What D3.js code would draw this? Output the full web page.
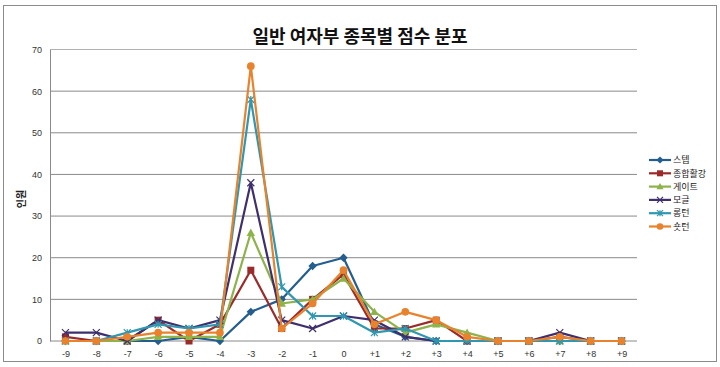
<!DOCTYPE html>
<html><head><meta charset="utf-8">
<script src="https://cdn.jsdelivr.net/npm/d3@7"></script>
<style>body{margin:0;background:#fff}svg{display:block;font-family:"Noto Sans CJK KR","Noto Sans",sans-serif}</style>
</head><body><svg id="c" width="720" height="367"></svg>
<script>
const categories = ["-9","-8","-7","-6","-5","-4","-3","-2","-1","0","+1","+2","+3","+4","+5","+6","+7","+8","+9"];
const seriesNames = ["스텝","종합활강","게이트","모글","롱턴","숏턴"];
const step      = [0,0,0,0,1,0,7,10,18,20,4,1,0,0,0,0,0,0,0];
const combined  = [1,0,0,5,0,4,17,3,10,16,3,3,5,0,0,0,1,0,0];
const gate      = [0,0,0,1,1,1,26,9,10,15,7,2,4,2,0,0,0,0,0];
const mogul     = [2,2,0,5,3,5,38,5,3,6,5,1,0,0,0,0,2,0,0];
const longTurn  = [0,0,2,4,3,4,58,13,6,6,2,3,0,0,0,0,0,0,0];
const shortTurn = [0,0,1,2,2,2,66,3,9,17,4,7,5,1,0,0,1,0,0];
const yTicks = [0,10,20,30,40,50,60,70];
const colors = ["#245e8f","#9b2b2b","#8db34a","#3f2f6e","#2f97b0","#e8822c"];
const markers = ["diamond","square","triangle","x","star","circle"];
const allSeries = [step,combined,gate,mogul,longTurn,shortTurn];

const svg = d3.select("#c");
svg.append("rect").attr("x",3.5).attr("y",5.5).attr("width",713).attr("height",356)
  .attr("fill","#fff").attr("stroke","#8c8c8c");

const L=50,R=637,T=49.5,B=341;
const x = d3.scalePoint().domain(categories).range([L,R]).padding(0.5);
const y = d3.scaleLinear().domain([0,70]).range([B,T]);

svg.append("text").attr("x",360).attr("y",43).attr("text-anchor","middle")
  .attr("font-size",18).attr("font-weight","bold").attr("fill","#111").text("일반 여자부 종목별 점수 분포");

svg.append("g").selectAll("line").data(yTicks.filter(d=>d>0)).join("line")
  .attr("x1",L).attr("x2",R).attr("y1",d=>y(d)).attr("y2",d=>y(d))
  .attr("stroke",d=>d===70?"#b0b0b0":"#8a8a8a").attr("stroke-width",1);

const yAxis = svg.append("g").attr("transform",`translate(${L},0)`)
  .call(d3.axisLeft(y).tickValues(yTicks).tickSize(0).tickPadding(8));
yAxis.select(".domain").attr("stroke","#8a8a8a");
yAxis.selectAll("text").attr("font-size",9).attr("fill","#333").attr("font-family","Liberation Sans, Arial, sans-serif");

const xAxis = svg.append("g").attr("transform",`translate(0,${B})`)
  .call(d3.axisBottom(x).tickSize(0).tickPadding(10));
xAxis.select(".domain").attr("stroke","#8a8a8a").attr("d",`M${L},0H${R}`);
xAxis.selectAll("text").attr("font-size",9).attr("fill","#333").attr("font-family","Liberation Sans, Arial, sans-serif");

svg.append("text").attr("transform","translate(25,199) rotate(-90)").attr("text-anchor","middle")
  .attr("font-size",10).attr("font-weight","bold").attr("fill","#222").text("인원");

function drawMarker(g,type,color,cx,cy,s){
  if(type==="circle") g.append("circle").attr("cx",cx).attr("cy",cy).attr("r",s*0.55).attr("fill",color);
  else if(type==="square") g.append("rect").attr("x",cx-s/2).attr("y",cy-s/2).attr("width",s).attr("height",s).attr("fill",color);
  else if(type==="diamond") g.append("path").attr("d",`M${cx},${cy-s*0.6}L${cx+s*0.6},${cy}L${cx},${cy+s*0.6}L${cx-s*0.6},${cy}Z`).attr("fill",color);
  else if(type==="triangle") g.append("path").attr("d",`M${cx},${cy-s*0.6}L${cx+s*0.6},${cy+s*0.45}L${cx-s*0.6},${cy+s*0.45}Z`).attr("fill",color);
  else if(type==="x") g.append("path").attr("d",`M${cx-s/2},${cy-s/2}L${cx+s/2},${cy+s/2}M${cx+s/2},${cy-s/2}L${cx-s/2},${cy+s/2}`).attr("stroke",color).attr("stroke-width",1.2).attr("fill","none");
  else if(type==="star") g.append("path").attr("d",`M${cx-s/2},${cy-s/2}L${cx+s/2},${cy+s/2}M${cx+s/2},${cy-s/2}L${cx-s/2},${cy+s/2}M${cx},${cy-s/2}L${cx},${cy+s/2}`).attr("stroke",color).attr("stroke-width",1.2).attr("fill","none");
}

const line = d3.line().x((d,i)=>x(categories[i])).y(d=>y(d));
allSeries.forEach((vals,si)=>{
  const g = svg.append("g");
  g.append("path").datum(vals).attr("d",line).attr("fill","none").attr("stroke",colors[si]).attr("stroke-width",2.2).attr("stroke-linejoin","round");
  vals.forEach((v,i)=>drawMarker(g,markers[si],colors[si],x(categories[i]),y(v),7));
});

const lg = svg.append("g");
seriesNames.forEach((n,i)=>{
  const yy = 160 + i*13.3;
  lg.append("line").attr("x1",649).attr("x2",671).attr("y1",yy).attr("y2",yy).attr("stroke",colors[i]).attr("stroke-width",2.2);
  drawMarker(lg,markers[i],colors[i],660,yy,6);
  lg.append("text").attr("x",673).attr("y",yy+3.2).attr("font-size",9).attr("fill","#222").text(n);
});
</script></body></html>
